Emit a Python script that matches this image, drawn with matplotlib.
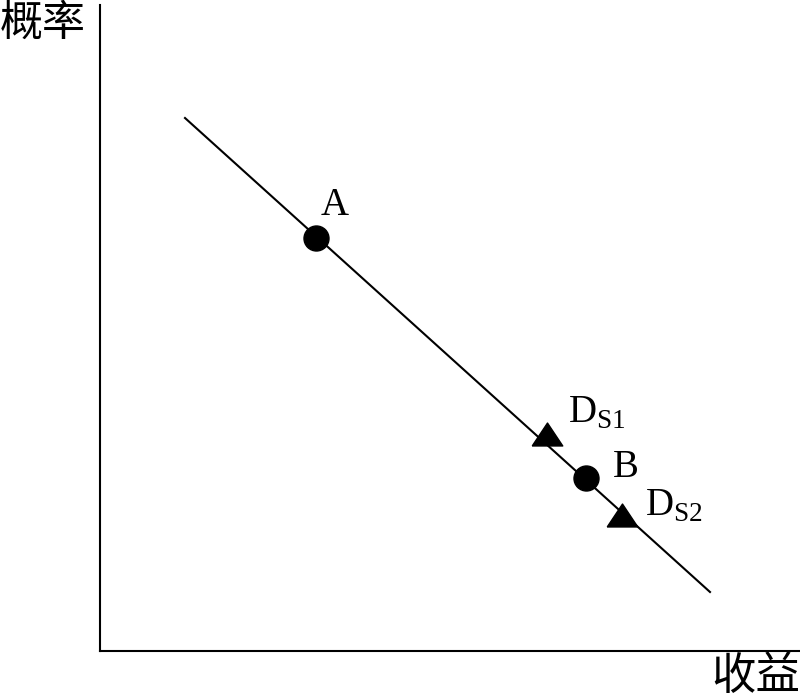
import matplotlib.pyplot as plt
from matplotlib.path import Path

plt.rcParams["mathtext.fontset"] = "custom"
plt.rcParams["mathtext.rm"] = "Liberation Serif"

# schematic units: x = revenue, y = probability
line_x = [85, 610]
line_y = [533, 59]

circle_names = ["A", "B"]
circle_x = [216, 486]
circle_y = [413, 173]

triangle_names = [r"$\mathrm{D}_{\mathrm{S1}}$", r"$\mathrm{D}_{\mathrm{S2}}$"]
triangle_x = [447, 522]
triangle_y = [217, 136]

x_label = "收益"
y_label = "概率"

fig = plt.figure(figsize=(8, 6.99), dpi=100)
ax = fig.add_axes([0.125, 48 / 699, 700 / 800, 646 / 699])

ax.plot(line_x, line_y, color="black", lw=1.5, zorder=1)

ax.plot(circle_x, circle_y, "o", color="black", ms=18, zorder=2)
tri = Path([(-1, -0.75), (1, -0.75), (0, 0.75), (-1, -0.75)])
ax.plot(triangle_x, triangle_y, marker=tri, ls="none", color="black", ms=22, zorder=2)

serif = dict(family="Liberation Serif", fontsize=28, color="black")
ax.text(circle_x[0] + 5, circle_y[0] + 23, circle_names[0], ha="left", va="baseline", **serif)
ax.text(circle_x[1] + 27, circle_y[1] + 1, circle_names[1], ha="left", va="baseline", **serif)
ax.text(triangle_x[0] + 21, triangle_y[0] + 11, triangle_names[0], ha="left", va="baseline", **serif)
ax.text(triangle_x[1] + 23, triangle_y[1] - 1, triangle_names[1], ha="left", va="baseline", **serif)

ax.set_xlim(0, 700)
ax.set_ylim(0, 646)
ax.set_xticks([])
ax.set_yticks([])
for side in ("top", "right"):
    ax.spines[side].set_visible(False)
for side in ("left", "bottom"):
    ax.spines[side].set_linewidth(1.5)

cjk = dict(family=["Noto Sans CJK SC", "DejaVu Sans"], color="black")
fig.text(0.0, 1 - 2 / 699, y_label, ha="left", va="top", fontsize=31, **cjk)
fig.text(1.0, 1 - 653 / 699, x_label, ha="right", va="top", fontsize=32, **cjk)

fig.savefig("out.png", dpi=100)
